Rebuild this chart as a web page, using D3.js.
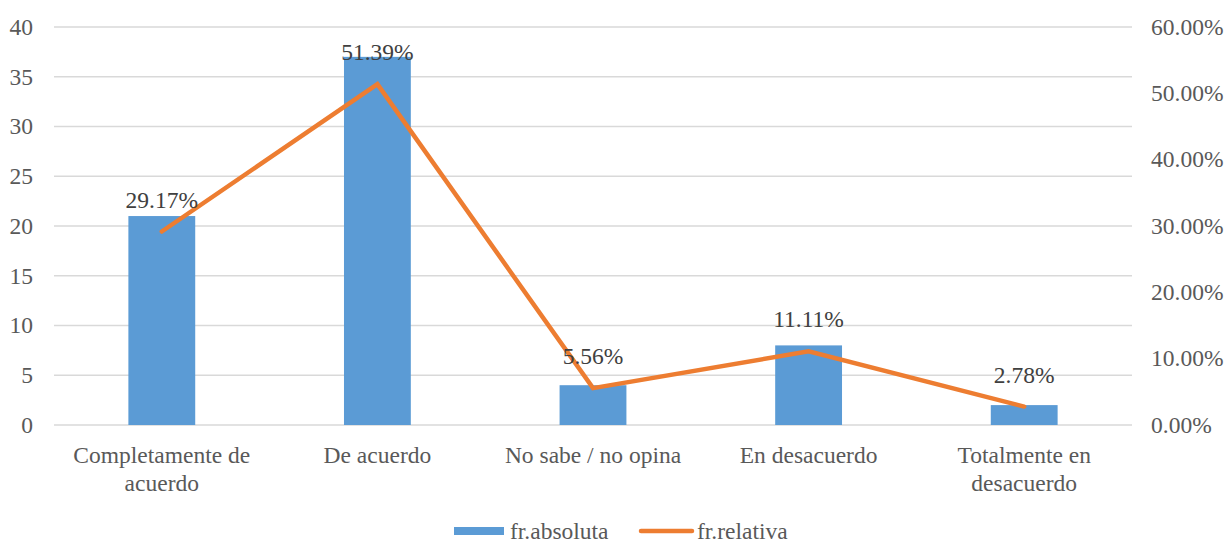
<!DOCTYPE html>
<html>
<head>
<meta charset="utf-8">
<script src="https://cdn.jsdelivr.net/npm/d3@7"></script>
<style>
  body { margin: 0; background: #fff; }
  text { font-family: "Liberation Serif", "Times New Roman", serif; fill: #595959; }
</style>
</head>
<body>
<div class="canvas"></div>
<script>
// data
var categories = [["Completamente de", "acuerdo"], ["De acuerdo"], ["No sabe / no opina"], ["En desacuerdo"], ["Totalmente en", "desacuerdo"]];
var absoluta = [21, 37, 4, 8, 2];
var relativa = [0.2917, 0.5139, 0.0556, 0.1111, 0.0278];
var leftTicks = [0, 5, 10, 15, 20, 25, 30, 35, 40];
var rightTicks = [0, 0.1, 0.2, 0.3, 0.4, 0.5, 0.6];

var width = 1228, height = 543;
var fontSize = '23.5px';
var svg = d3.select('.canvas').append('svg')
  .attr('width', width).attr('height', height);

// plot area (note: "top" is taken by window.top)
var plotLeft = 54, plotRight = 1132, plotTop = 27, plotBottom = 425;

var x = d3.scaleBand()
  .domain(d3.range(categories.length))
  .range([plotLeft, plotRight]);

var y = d3.scaleLinear().domain([0, 40]).range([plotBottom, plotTop]);
var y2 = d3.scaleLinear().domain([0, 0.6]).range([plotBottom, plotTop]);

// grid lines
svg.append('g').selectAll('line')
  .data(leftTicks)
  .enter().append('line')
  .attr('x1', plotLeft).attr('x2', plotRight)
  .attr('y1', d => y(d)).attr('y2', d => y(d))
  .attr('stroke', '#d9d9d9').attr('stroke-width', 1.5);

// left axis labels
svg.append('g').selectAll('text')
  .data(leftTicks)
  .enter().append('text')
  .attr('x', 33).attr('y', d => y(d))
  .attr('dy', '0.33em')
  .attr('text-anchor', 'end')
  .style('font-size', fontSize)
  .text(d => d);

// right axis labels
svg.append('g').selectAll('text')
  .data(rightTicks)
  .enter().append('text')
  .attr('x', 1151).attr('y', d => y2(d))
  .attr('dy', '0.33em')
  .style('font-size', fontSize)
  .text(d => (d * 100).toFixed(2) + '%');

// bars
var barW = x.bandwidth() * 0.31;
svg.append('g').selectAll('rect')
  .data(absoluta)
  .enter().append('rect')
  .attr('x', (d, i) => x(i) + x.bandwidth() / 2 - barW / 2)
  .attr('y', d => y(d))
  .attr('width', barW)
  .attr('height', d => y(0) - y(d))
  .attr('fill', '#5b9bd5');

// line
var line = d3.line()
  .x((d, i) => x(i) + x.bandwidth() / 2)
  .y(d => y2(d));

svg.append('path')
  .datum(relativa)
  .attr('d', line)
  .attr('fill', 'none')
  .attr('stroke', '#ed7d31')
  .attr('stroke-width', 4.5)
  .attr('stroke-linecap', 'round')
  .attr('stroke-linejoin', 'miter');

// line labels
svg.append('g').selectAll('text')
  .data(relativa)
  .enter().append('text')
  .attr('x', (d, i) => x(i) + x.bandwidth() / 2)
  .attr('y', d => y2(d) - 24)
  .attr('text-anchor', 'middle')
  .style('font-size', fontSize)
  .style('fill', '#404040')
  .text(d => (d * 100).toFixed(2) + '%');

// category labels
var cat = svg.append('g').selectAll('text')
  .data(categories)
  .enter().append('text')
  .attr('x', (d, i) => x(i) + x.bandwidth() / 2)
  .attr('y', 463)
  .attr('text-anchor', 'middle')
  .style('font-size', fontSize);

cat.selectAll('tspan')
  .data(d => d)
  .enter().append('tspan')
  .attr('x', function () { return d3.select(this.parentNode).attr('x'); })
  .attr('dy', (d, j) => j === 0 ? 0 : 28)
  .text(d => d);

// legend
var lg = svg.append('g');
lg.append('rect')
  .attr('x', 454).attr('y', 527).attr('width', 50).attr('height', 8)
  .attr('fill', '#5b9bd5');
lg.append('text')
  .attr('x', 510).attr('y', 539)
  .style('font-size', fontSize)
  .text('fr.absoluta');
lg.append('line')
  .attr('x1', 641).attr('x2', 692).attr('y1', 531).attr('y2', 531)
  .attr('stroke', '#ed7d31').attr('stroke-width', 4.5)
  .attr('stroke-linecap', 'round');
lg.append('text')
  .attr('x', 697).attr('y', 539)
  .style('font-size', fontSize)
  .text('fr.relativa');
</script>
</body>
</html>
